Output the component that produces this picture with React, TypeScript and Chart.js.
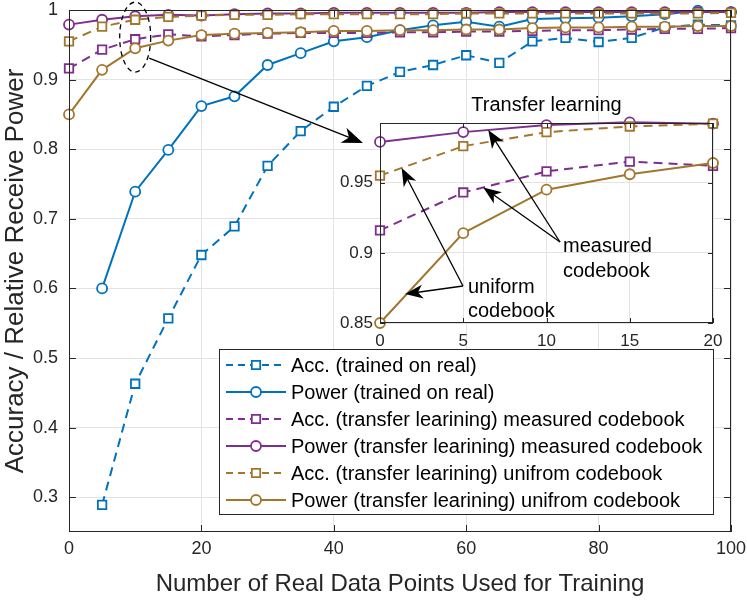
import React, { useEffect, useRef } from 'react';
import { Chart, registerables } from 'chart.js';
Chart.register(...registerables);

const FONT = "'Liberation Sans', Arial, Helvetica, sans-serif";
const TEXT = '#262626';
const GRID = '#e3e3e3';
const BLUE = '#0072BD';
const PURPLE = '#7E2F8E';
const BROWN = '#A2762D';

// ---- data ----
const xReal = [5, 10, 15, 20, 25, 30, 35, 40, 45, 50, 55, 60, 65, 70, 75, 80, 85, 90, 95, 100];
const xTransfer = [0, 5, 10, 15, 20, 25, 30, 35, 40, 45, 50, 55, 60, 65, 70, 75, 80, 85, 90, 95, 100];

const accReal = [0.289, 0.463, 0.557, 0.648, 0.689, 0.776, 0.826, 0.861, 0.891, 0.911, 0.921, 0.935, 0.924, 0.955, 0.96, 0.954, 0.96, 0.975, 0.979, 0.978];
const powerReal = [0.6, 0.739, 0.799, 0.862, 0.876, 0.921, 0.938, 0.955, 0.961, 0.971, 0.978, 0.983, 0.976, 0.987, 0.988, 0.989, 0.991, 0.994, 0.999, 0.997];
const accMeasured = [0.916, 0.943, 0.958, 0.965, 0.962, 0.964, 0.966, 0.967, 0.967, 0.967, 0.968, 0.968, 0.969, 0.969, 0.97, 0.971, 0.971, 0.972, 0.973, 0.973, 0.974];
const powerMeasured = [0.979, 0.986, 0.991, 0.993, 0.992, 0.994, 0.995, 0.995, 0.996, 0.996, 0.996, 0.996, 0.996, 0.997, 0.997, 0.997, 0.997, 0.997, 0.997, 0.997, 0.997];
const accUniform = [0.955, 0.976, 0.986, 0.99, 0.992, 0.993, 0.993, 0.994, 0.994, 0.994, 0.994, 0.994, 0.995, 0.995, 0.995, 0.995, 0.995, 0.995, 0.995, 0.995, 0.996];
const powerUniform = [0.85, 0.914, 0.945, 0.956, 0.964, 0.966, 0.967, 0.968, 0.97, 0.97, 0.971, 0.971, 0.972, 0.972, 0.974, 0.975, 0.975, 0.976, 0.976, 0.977, 0.977];

const seriesLabels = [
  'Acc. (trained on real)',
  'Power (trained on real)',
  'Acc. (transfer learining) measured codebook',
  'Power (transfer learining) measured codebook',
  'Acc. (transfer learining) unifrom codebook',
  'Power (transfer learining) unifrom codebook',
];

const xTicks = [0, 20, 40, 60, 80, 100];
const yTicks = [0.3, 0.4, 0.5, 0.6, 0.7, 0.8, 0.9, 1];
const insetXTicks = [0, 5, 10, 15, 20];
const insetYTicks = [0.85, 0.9, 0.95];
const insetMaxX = 20;

const xTitle = 'Number of Real Data Points Used for Training';
const yTitle = 'Accuracy / Relative Receive Power';
const insetTitle = 'Transfer learning';

type Series = { label: string; xs: number[]; ys: number[]; color: string; dashed: boolean; marker: 'rect' | 'circle' };

const series: Series[] = [
  { label: seriesLabels[0], xs: xReal, ys: accReal, color: BLUE, dashed: true, marker: 'rect' },
  { label: seriesLabels[1], xs: xReal, ys: powerReal, color: BLUE, dashed: false, marker: 'circle' },
  { label: seriesLabels[2], xs: xTransfer, ys: accMeasured, color: PURPLE, dashed: true, marker: 'rect' },
  { label: seriesLabels[3], xs: xTransfer, ys: powerMeasured, color: PURPLE, dashed: false, marker: 'circle' },
  { label: seriesLabels[4], xs: xTransfer, ys: accUniform, color: BROWN, dashed: true, marker: 'rect' },
  { label: seriesLabels[5], xs: xTransfer, ys: powerUniform, color: BROWN, dashed: false, marker: 'circle' },
];

function makeDataset(s: Series, i: number, maxX: number) {
  const pts = s.xs.map((x, k) => ({ x, y: s.ys[k] })).filter((p) => p.x <= maxX);
  return {
    label: s.label,
    data: pts,
    borderColor: s.color,
    backgroundColor: '#ffffff',
    borderWidth: 2,
    borderDash: s.dashed ? [9, 6] : [],
    pointStyle: s.marker,
    pointRadius: s.marker === 'rect' ? 6 : 5,
    pointBorderWidth: 1.8,
    pointBackgroundColor: '#ffffff',
    pointBorderColor: s.color,
    tension: 0,
    clip: false as const,
    order: 10 - i,
  };
}

function interp(xs: number[], ys: number[], x: number) {
  for (let i = 0; i < xs.length - 1; i++) {
    if (x >= xs[i] && x <= xs[i + 1]) {
      const t = (x - xs[i]) / (xs[i + 1] - xs[i]);
      return ys[i] + t * (ys[i + 1] - ys[i]);
    }
  }
  return ys[ys.length - 1];
}

function arrow(ctx: CanvasRenderingContext2D, x0: number, y0: number, x1: number, y1: number, len = 18, half = 7, notch = 5) {
  const ang = Math.atan2(y1 - y0, x1 - x0);
  const ux = Math.cos(ang);
  const uy = Math.sin(ang);
  const nx = x1 - ux * (len - notch);
  const ny = y1 - uy * (len - notch);
  const bx = x1 - ux * len;
  const by = y1 - uy * len;
  ctx.beginPath();
  ctx.moveTo(x0, y0);
  ctx.lineTo(nx, ny);
  ctx.stroke();
  ctx.beginPath();
  ctx.moveTo(x1, y1);
  ctx.lineTo(bx - uy * half, by + ux * half);
  ctx.lineTo(nx, ny);
  ctx.lineTo(bx + uy * half, by - ux * half);
  ctx.closePath();
  ctx.fill();
}

function drawFrameAndTicks(ctx: CanvasRenderingContext2D, chart: any, xt: number[], yt: number[], tl: number) {
  const a = chart.chartArea;
  const xs = chart.scales.x;
  const ys = chart.scales.y;
  ctx.save();
  ctx.strokeStyle = TEXT;
  ctx.lineWidth = 1;
  ctx.setLineDash([]);
  ctx.strokeRect(Math.round(a.left) + 0.5, Math.round(a.top) + 0.5, Math.round(a.right - a.left) - 1, Math.round(a.bottom - a.top) - 1);
  ctx.beginPath();
  xt.forEach((v) => {
    const px = Math.round(xs.getPixelForValue(v)) + 0.5;
    ctx.moveTo(px, a.bottom);
    ctx.lineTo(px, a.bottom - tl);
    ctx.moveTo(px, a.top);
    ctx.lineTo(px, a.top + tl);
  });
  yt.forEach((v) => {
    const py = Math.round(ys.getPixelForValue(v)) + 0.5;
    ctx.moveTo(a.left, py);
    ctx.lineTo(a.left + tl, py);
    ctx.moveTo(a.right, py);
    ctx.lineTo(a.right - tl, py);
  });
  ctx.stroke();
  ctx.restore();
}

const mainDecor = {
  id: 'mainDecor',
  afterDatasetsDraw(chart: any) {
    const ctx: CanvasRenderingContext2D = chart.ctx;
    drawFrameAndTicks(ctx, chart, xTicks, yTicks, 7);
    const xs = chart.scales.x;
    const ys = chart.scales.y;
    ctx.save();
    // dashed ellipse around x = 10
    const cx = xs.getPixelForValue(10);
    const cy = ys.getPixelForValue(0.961);
    ctx.strokeStyle = '#000';
    ctx.lineWidth = 1.3;
    ctx.setLineDash([5, 4]);
    ctx.beginPath();
    ctx.ellipse(cx, cy, 15.5, 35, 0, 0, Math.PI * 2);
    ctx.stroke();
    ctx.setLineDash([]);
    // big arrow to inset
    ctx.fillStyle = '#000';
    ctx.lineWidth = 1.3;
    arrow(ctx, cx + 14, cy + 21, 363, 143, 21, 8, 6);

    // legend
    const lx = 219, ly = 349, lw = 494, lh = 165;
    ctx.fillStyle = '#fff';
    ctx.fillRect(lx, ly, lw, lh);
    ctx.strokeStyle = TEXT;
    ctx.lineWidth = 1;
    ctx.strokeRect(lx + 0.5, ly + 0.5, lw, lh);
    ctx.font = `20px ${FONT}`;
    ctx.textBaseline = 'middle';
    ctx.textAlign = 'left';
    series.forEach((s, i) => {
      const y = ly + 16 + i * 27;
      ctx.strokeStyle = s.color;
      ctx.lineWidth = 2;
      ctx.setLineDash(s.dashed ? [7, 5] : []);
      ctx.beginPath();
      ctx.moveTo(226, y);
      ctx.lineTo(286, y);
      ctx.stroke();
      ctx.setLineDash([]);
      ctx.fillStyle = '#fff';
      ctx.lineWidth = 1.8;
      ctx.beginPath();
      if (s.marker === 'rect') {
        ctx.rect(256 - 4.2, y - 4.2, 8.4, 8.4);
      } else {
        ctx.arc(256, y, 5, 0, Math.PI * 2);
      }
      ctx.fill();
      ctx.stroke();
      ctx.fillStyle = '#000';
      ctx.fillText(s.label, 291, y + 1);
    });
    ctx.restore();
  },
};

const insetDecor = {
  id: 'insetDecor',
  beforeDraw(chart: any) {
    const a = chart.chartArea;
    const ctx: CanvasRenderingContext2D = chart.ctx;
    ctx.save();
    ctx.fillStyle = '#fff';
    ctx.fillRect(a.left, a.top, a.right - a.left, a.bottom - a.top);
    ctx.restore();
  },
  afterDatasetsDraw(chart: any) {
    const ctx: CanvasRenderingContext2D = chart.ctx;
    drawFrameAndTicks(ctx, chart, insetXTicks, insetYTicks, 5);
    const a = chart.chartArea;
    const xs = chart.scales.x;
    const ys = chart.scales.y;
    const P = (x: number, arr: number[]) => ({ x: xs.getPixelForValue(x), y: ys.getPixelForValue(interp(xTransfer, arr, x)) });
    ctx.save();
    ctx.fillStyle = '#000';
    ctx.font = `20px ${FONT}`;
    ctx.textBaseline = 'middle';
    ctx.textAlign = 'center';
    ctx.fillText(insetTitle, (a.left + a.right) / 2, a.top - 18);
    ctx.textAlign = 'left';
    ctx.fillText('measured', 243, 166);
    ctx.fillText('codebook', 243, 191);
    ctx.fillText('uniform', 148, 207);
    ctx.fillText('codebook', 148, 231);
    ctx.strokeStyle = '#000';
    ctx.lineWidth = 1.3;
    const mo = { x: 240, y: 162 };
    const uo = { x: 143, y: 206 };
    let t = P(6.5, powerMeasured);
    arrow(ctx, mo.x, mo.y, t.x, t.y);
    t = P(6.2, accMeasured);
    arrow(ctx, mo.x, mo.y, t.x, t.y);
    t = P(1.3, accUniform);
    arrow(ctx, uo.x, uo.y, t.x, t.y);
    t = P(1.5, powerUniform);
    arrow(ctx, uo.x, uo.y, t.x, t.y - 2);
    ctx.restore();
  },
};

const zeroPadX = (s: any, h: number) => { s.height = h; s.paddingLeft = 0; s.paddingRight = 0; };
const zeroPadY = (s: any, w: number) => { s.width = w; s.paddingTop = 0; s.paddingBottom = 0; };

export default function App() {
  const mainRef = useRef<HTMLCanvasElement>(null);
  const insetRef = useRef<HTMLCanvasElement>(null);

  useEffect(() => {
    const tickFont = { family: FONT, size: 18 };
    const main = new Chart(mainRef.current!, {
      type: 'line',
      data: { datasets: series.map((s, i) => makeDataset(s, i, 1000)) as any },
      options: {
        animation: false,
        responsive: false,
        maintainAspectRatio: false,
        layout: { padding: { left: 0, right: 16, top: 10, bottom: 0 } },
        plugins: { legend: { display: false }, tooltip: { enabled: false }, title: { display: false } },
        scales: {
          x: {
            type: 'linear',
            min: 0,
            max: 100,
            afterBuildTicks: (s: any) => { s.ticks = xTicks.map((v) => ({ value: v })); },
            afterFit: (s: any) => zeroPadX(s, 69),
            grid: { color: GRID, drawTicks: false, lineWidth: 1 },
            border: { display: false },
            ticks: { color: TEXT, font: tickFont, padding: 6, maxRotation: 0, autoSkip: false, callback: (v: any) => String(v) },
            title: { display: true, text: xTitle, color: TEXT, font: { family: FONT, size: 24 }, padding: { top: 0, bottom: 2 } },
          },
          y: {
            type: 'linear',
            min: 0.25,
            max: 1,
            afterBuildTicks: (s: any) => { s.ticks = yTicks.map((v) => ({ value: v })); },
            afterFit: (s: any) => zeroPadY(s, 69),
            grid: { color: GRID, drawTicks: false, lineWidth: 1 },
            border: { display: false },
            ticks: { color: TEXT, font: tickFont, padding: 11, autoSkip: false, callback: (v: any) => String(Math.round(v * 100) / 100) },
            title: { display: true, text: yTitle, color: TEXT, font: { family: FONT, size: 26 }, padding: { top: 0, bottom: 0 } },
          },
        },
      } as any,
      plugins: [mainDecor],
    });

    const insetFont = { family: FONT, size: 17 };
    const inset = new Chart(insetRef.current!, {
      type: 'line',
      data: { datasets: series.slice(2).map((s, i) => makeDataset(s, i + 2, insetMaxX)) as any },
      options: {
        animation: false,
        responsive: false,
        maintainAspectRatio: false,
        layout: { padding: { left: 0, right: 17, top: 43, bottom: 0 } },
        plugins: { legend: { display: false }, tooltip: { enabled: false }, title: { display: false } },
        scales: {
          x: {
            type: 'linear',
            min: 0,
            max: insetMaxX,
            afterBuildTicks: (s: any) => { s.ticks = insetXTicks.map((v) => ({ value: v })); },
            afterFit: (s: any) => zeroPadX(s, 47),
            grid: { color: GRID, drawTicks: false, lineWidth: 1 },
            border: { display: false },
            ticks: { color: TEXT, font: insetFont, padding: 8, maxRotation: 0, autoSkip: false, callback: (v: any) => String(v) },
          },
          y: {
            type: 'linear',
            min: 0.85,
            max: 0.9925,
            afterBuildTicks: (s: any) => { s.ticks = insetYTicks.map((v) => ({ value: v })); },
            afterFit: (s: any) => zeroPadY(s, 60),
            grid: { color: GRID, drawTicks: false, lineWidth: 1 },
            border: { display: false },
            ticks: { color: TEXT, font: insetFont, padding: 7, autoSkip: false, callback: (v: any) => String(Math.round(v * 100) / 100) },
          },
        },
      } as any,
      plugins: [insetDecor],
    });

    return () => {
      main.destroy();
      inset.destroy();
    };
  }, []);

  return (
    <div style={{ position: 'fixed', left: 0, top: 0, width: 747, height: 601, background: '#fff' }}>
      <canvas ref={mainRef} width={747} height={601} style={{ position: 'absolute', left: 0, top: 0, display: 'block' }} />
      <canvas ref={insetRef} width={410} height={290} style={{ position: 'absolute', left: 320, top: 80, display: 'block' }} />
    </div>
  );
}
